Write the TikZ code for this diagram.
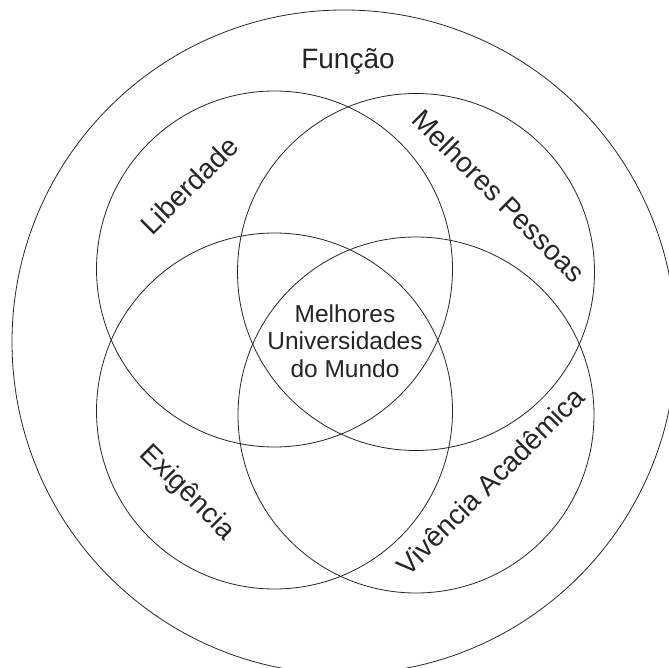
\documentclass[tikz,border=0pt]{standalone}
\usepackage{fontspec}
\setmainfont{Liberation Sans}
\begin{document}
\begin{tikzpicture}[x=1pt,y=-1pt,
  ring/.style={draw=black!85,line width=0.8pt},
  lbl/.style={font=\fontsize{28}{32}\selectfont,text=black!85,inner sep=0pt},
  mid/.style={font=\fontsize{24.5}{27.5}\selectfont,text=black!85,inner sep=0pt,align=center}]
\useasboundingbox (0,0) rectangle (669,668);
\fill[white] (0,0) rectangle (669,668);
\clip (0,0) rectangle (669,668);
\node[ring,circle,minimum size=664pt] (outer) at (344,342) {};
\node[ring,circle,minimum size=356pt] (tl) at (274.5,269) {};
\node[ring,circle,minimum size=357pt] (tr) at (416,272) {};
\node[ring,circle,minimum size=356pt] (bl) at (274.5,411) {};
\node[ring,circle,minimum size=356pt] (br) at (416,415) {};
\node[lbl,anchor=base] (funcao) at (348,69) {Função};
\node[lbl,rotate=45] (lib) at (189,185) {Liberdade};
\node[lbl,rotate=-45] (mp) at (499,196) {Melhores Pessoas};
\node[lbl,rotate=-45] (exi) at (187,493) {Exigência};
\node[lbl,rotate=45] (viv) at (490,481) {Vivência Acadêmica};
\node[mid] (centre) at (345,341) {Melhores\\Universidades\\do Mundo};
\end{tikzpicture}
\end{document}
